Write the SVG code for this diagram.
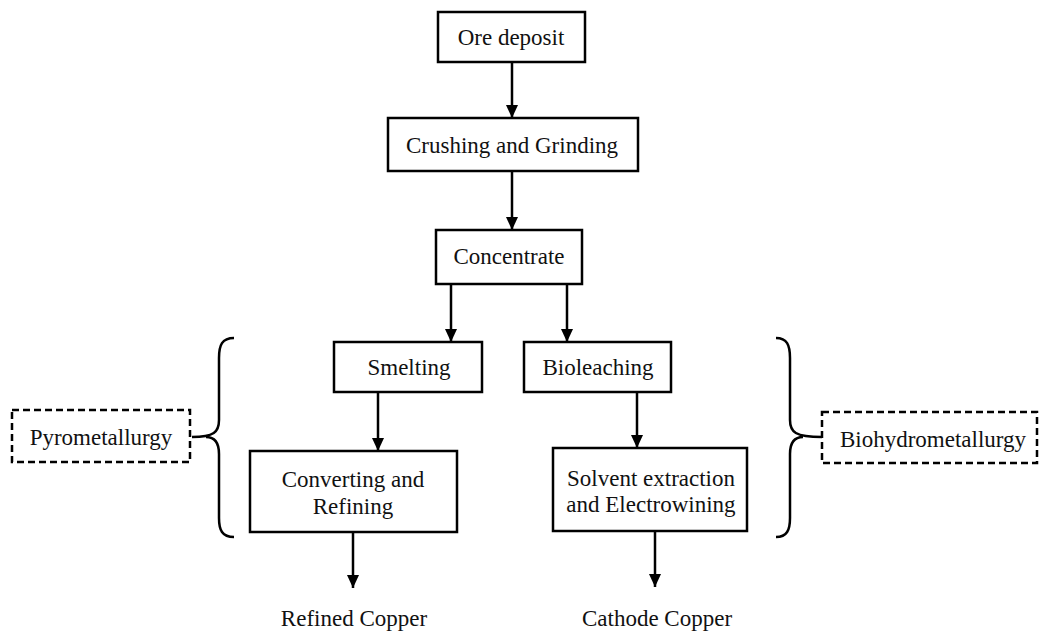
<svg xmlns="http://www.w3.org/2000/svg" width="1039" height="632" viewBox="0 0 1039 632">
<style>
.box{fill:#fff;stroke:#000;stroke-width:2.5}
.dash{fill:#fff;stroke:#000;stroke-width:2.5;stroke-dasharray:7,4}
.t{font-family:"Liberation Serif","Times New Roman",serif;font-size:23px;fill:#111;text-anchor:middle}
.c{stroke:#000;stroke-width:2.5;fill:none}
</style>
<defs>
<marker id="ah" markerUnits="userSpaceOnUse" markerWidth="12" markerHeight="14" refX="6" refY="13" orient="auto-start-reverse" viewBox="0 0 12 14">
<path d="M0,0 L12,0 L6,13 Z" fill="#000" transform="rotate(-90 6 6.5)"/>
</marker>
<marker id="arr" markerUnits="userSpaceOnUse" markerWidth="14" markerHeight="12" refX="13" refY="6" orient="auto" viewBox="0 0 14 12">
<path d="M0,0 L13,6 L0,12 Z" fill="#000"/>
</marker>
</defs>
<rect width="1039" height="632" fill="#fff"/>
<g id="connectors">
<line class="c" x1="512" y1="62" x2="512" y2="118" marker-end="url(#arr)"/>
<line class="c" x1="512" y1="172" x2="512" y2="230" marker-end="url(#arr)"/>
<line class="c" x1="451" y1="284" x2="451" y2="342" marker-end="url(#arr)"/>
<line class="c" x1="567" y1="284" x2="567" y2="342" marker-end="url(#arr)"/>
<line class="c" x1="378" y1="392" x2="378" y2="451" marker-end="url(#arr)"/>
<line class="c" x1="637" y1="392" x2="637" y2="448" marker-end="url(#arr)"/>
<line class="c" x1="353" y1="532" x2="353" y2="588" marker-end="url(#arr)"/>
<line class="c" x1="655" y1="531" x2="655" y2="587" marker-end="url(#arr)"/>
<path class="c" d="M234,338 C222,338 219,345 219,358 L219,420 C219,432 214,437 192,437 M206,437 C214,437 219,442 219,454 L219,518 C219,530 222,537 234,537"/>
<path class="c" d="M776,338 C787,338 790,345 790,358 L790,420 C790,432 795,437 822,437 M803,437 C795,437 790,442 790,454 L790,518 C790,530 787,537 776,537"/>
</g>
<g id="ore"><rect class="box" x="438" y="12" width="147" height="50"/><text class="t" x="511" y="45">Ore deposit</text></g>
<g id="crushing"><rect class="box" x="388" y="118" width="250" height="53"/><text class="t" x="512" y="153">Crushing and Grinding</text></g>
<g id="concentrate"><rect class="box" x="436" y="230" width="146" height="54"/><text class="t" x="509" y="264">Concentrate</text></g>
<g id="smelting"><rect class="box" x="334" y="342" width="148" height="50"/><text class="t" x="409" y="375">Smelting</text></g>
<g id="bioleaching"><rect class="box" x="524" y="342" width="147" height="50"/><text class="t" x="598" y="375">Bioleaching</text></g>
<g id="converting"><rect class="box" x="250" y="451" width="207" height="81"/><text class="t" x="353" y="487">Converting and</text><text class="t" x="353" y="514">Refining</text></g>
<g id="solvent"><rect class="box" x="553" y="448" width="194" height="83"/><text class="t" x="651" y="486">Solvent extraction</text><text class="t" x="651" y="512">and Electrowining</text></g>
<g id="refined"><text class="t" x="354" y="626">Refined Copper</text></g>
<g id="cathode"><text class="t" x="657" y="626">Cathode Copper</text></g>
<g id="pyro"><rect class="dash" x="12" y="410" width="178" height="52"/><text class="t" x="101" y="445">Pyrometallurgy</text></g>
<g id="biohydro"><rect class="dash" x="822" y="412" width="215" height="51"/><text class="t" x="933" y="447">Biohydrometallurgy</text></g>
</svg>
